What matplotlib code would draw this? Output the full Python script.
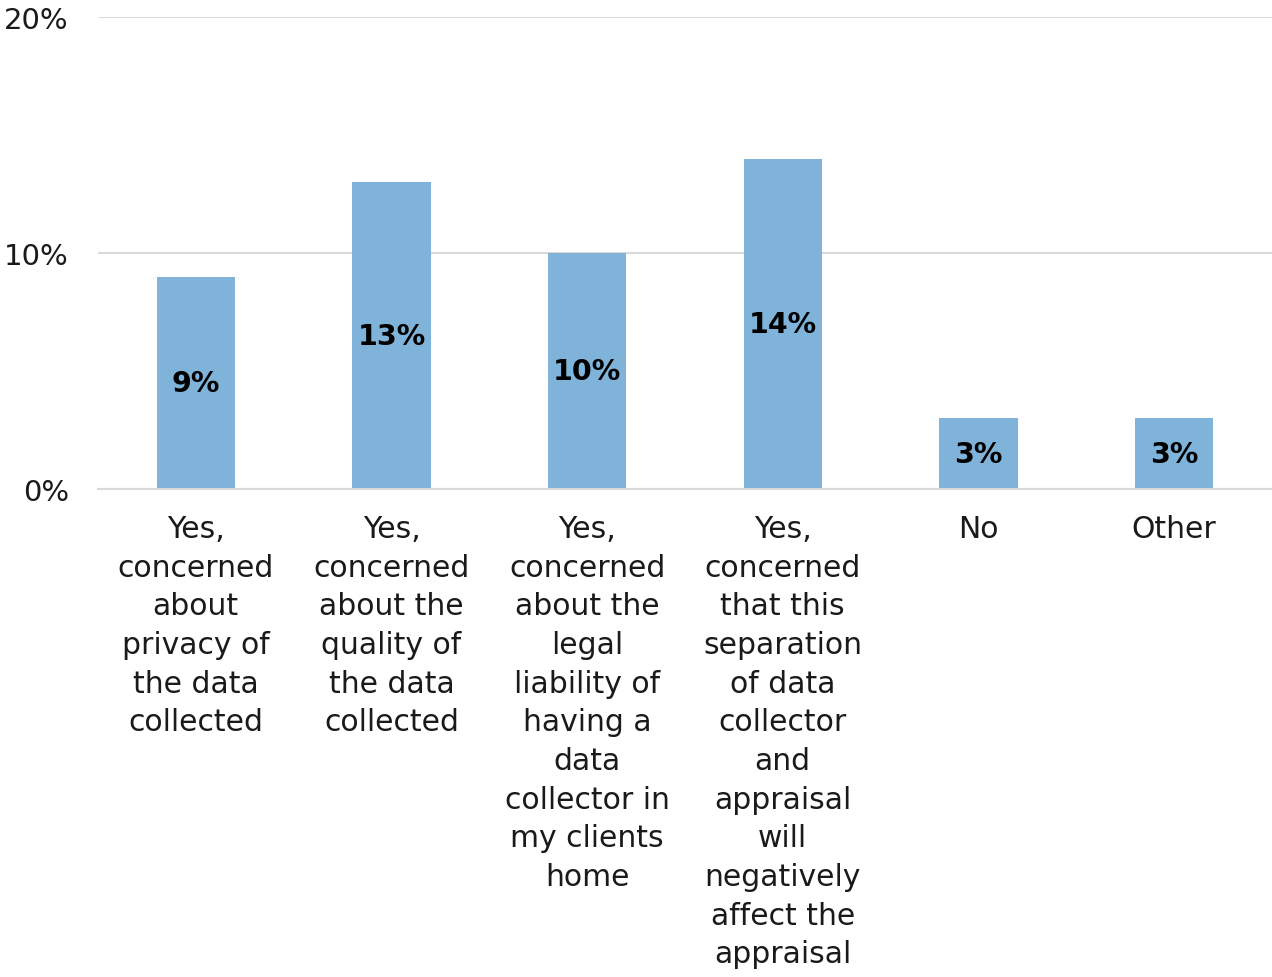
import matplotlib.pyplot as plt

categories = [
    "Yes,\nconcerned\nabout\nprivacy of\nthe data\ncollected",
    "Yes,\nconcerned\nabout the\nquality of\nthe data\ncollected",
    "Yes,\nconcerned\nabout the\nlegal\nliability of\nhaving a\ndata\ncollector in\nmy clients\nhome",
    "Yes,\nconcerned\nthat this\nseparation\nof data\ncollector\nand\nappraisal\nwill\nnegatively\naffect the\nappraisal",
    "No",
    "Other",
]
values = [9, 13, 10, 14, 3, 3]
yticks = [0, 10, 20]
ytick_labels = ["0%", "10%", "20%"]

plt.rcParams["font.family"] = ["DejaVu Sans"]

fig = plt.figure(figsize=(12.72, 9.78), dpi=100)
ax = fig.add_axes([0.077, 0.499, 0.923, 0.4825])

x = list(range(len(values)))
bars = ax.bar(x, values, width=0.4, color="#7FB3DA", zorder=2)

# value labels in the middle of each bar
for rect, v in zip(bars, values):
    ax.text(rect.get_x() + rect.get_width() / 2, v / 2, f"{v}%",
            ha="center", va="center", fontsize=20.5, fontweight="bold",
            color="black", zorder=3)

ax.set_xlim(-0.5, len(values) - 0.5)
ax.set_ylim(0, 20)
ax.set_yticks(yticks)
ax.set_yticklabels(ytick_labels, fontsize=21, color="#1a1a1a")
ax.yaxis.grid(True, color="#D9D9D9", linewidth=1.5, zorder=0)
ax.set_xticks(x)
ax.set_xticklabels(categories, fontsize=21.5, linespacing=1.42, va="top",
                   color="#1a1a1a")
ax.tick_params(axis="both", length=0)
ax.tick_params(axis="x", pad=18)
ax.tick_params(axis="y", pad=21)

for side in ["left", "right", "top"]:
    ax.spines[side].set_visible(False)
ax.spines["bottom"].set_color("#D9D9D9")
ax.spines["bottom"].set_linewidth(1.5)

fig.savefig("out.png", dpi=100)
